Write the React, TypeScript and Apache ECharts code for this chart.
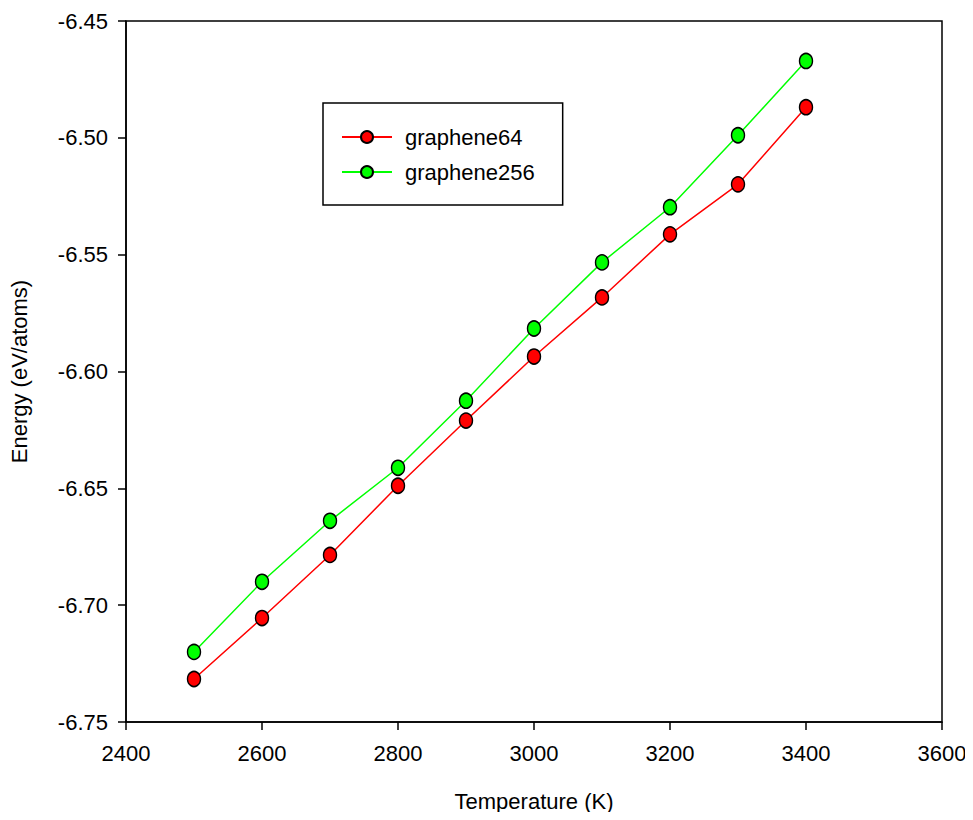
import React, { useEffect, useRef } from "react";
import * as echarts from "echarts";

const temps = [2500, 2600, 2700, 2800, 2900, 3000, 3100, 3200, 3300, 3400];
const graphene64 = [-6.7316, -6.7055, -6.6785, -6.6489, -6.621, -6.5936, -6.5683, -6.5413, -6.5199, -6.4869];
const graphene256 = [-6.72, -6.69, -6.6639, -6.6412, -6.6125, -6.5816, -6.5533, -6.5297, -6.4989, -6.4671];
const seriesNames = ["graphene64", "graphene256"];
const seriesColors = ["#ff0000", "#00ff00"];

export default function App() {
  const ref = useRef<HTMLDivElement>(null);
  useEffect(() => {
    if (!ref.current) return;
    const chart = echarts.init(ref.current, null, { renderer: "svg" });
    const font = "'Liberation Sans', Arial, sans-serif";
    const mk = (name: string, data: number[], color: string) => ({
      name,
      type: "line",
      data: temps.map((t, i) => [t, data[i]]),
      symbol: "circle",
      symbolSize: [13, 15],
      showAllSymbol: true,
      lineStyle: { color, width: 1.5 },
      itemStyle: { color, borderColor: "#000", borderWidth: 1.5 },
      z: 3,
    });
    chart.setOption({
      animation: false,
      backgroundColor: "#fff",
      textStyle: { fontFamily: font },
      grid: { left: 126, top: 21, right: 31, bottom: 98, show: true, borderColor: "#000", borderWidth: 1.5, backgroundColor: "transparent" },
      legend: {
        data: seriesNames,
        orient: "vertical",
        left: 323,
        top: 103,
        borderColor: "#000",
        borderWidth: 1.5,
        padding: [23, 28, 22, 18],
        itemWidth: 50,
        itemHeight: 15,
        itemGap: 13,
        textStyle: { fontFamily: font, fontSize: 22, lineHeight: 20, color: "#000", padding: [0, 0, 0, 8] },
      },
      xAxis: {
        type: "value",
        min: 2400,
        max: 3600,
        interval: 200,
        name: "Temperature (K)",
        nameLocation: "middle",
        nameGap: 68,
        nameTextStyle: { fontFamily: font, fontSize: 22, color: "#000" },
        axisLine: { show: true, lineStyle: { color: "#000", width: 1.5 } },
        axisTick: { show: true, inside: false, length: 8, lineStyle: { color: "#000", width: 1.5 } },
        axisLabel: { fontFamily: font, fontSize: 22, color: "#000", margin: 20, formatter: (v: number) => String(v) },
        splitLine: { show: false },
      },
      yAxis: {
        type: "value",
        min: -6.75,
        max: -6.45,
        interval: 0.05,
        name: "Energy (eV/atoms)",
        nameLocation: "middle",
        nameGap: 96,
        nameTextStyle: { fontFamily: font, fontSize: 22, color: "#000" },
        axisLine: { show: true, lineStyle: { color: "#000", width: 1.5 } },
        axisTick: { show: true, inside: false, length: 8, lineStyle: { color: "#000", width: 1.5 } },
        axisLabel: { fontFamily: font, fontSize: 22, color: "#000", margin: 18, formatter: (v: number) => v.toFixed(2) },
        splitLine: { show: false },
      },
      series: [mk(seriesNames[0], graphene64, seriesColors[0]), mk(seriesNames[1], graphene256, seriesColors[1])],
    });
    return () => chart.dispose();
  }, []);
  return <div ref={ref} style={{ width: 973, height: 820, margin: -8 }} />;
}
